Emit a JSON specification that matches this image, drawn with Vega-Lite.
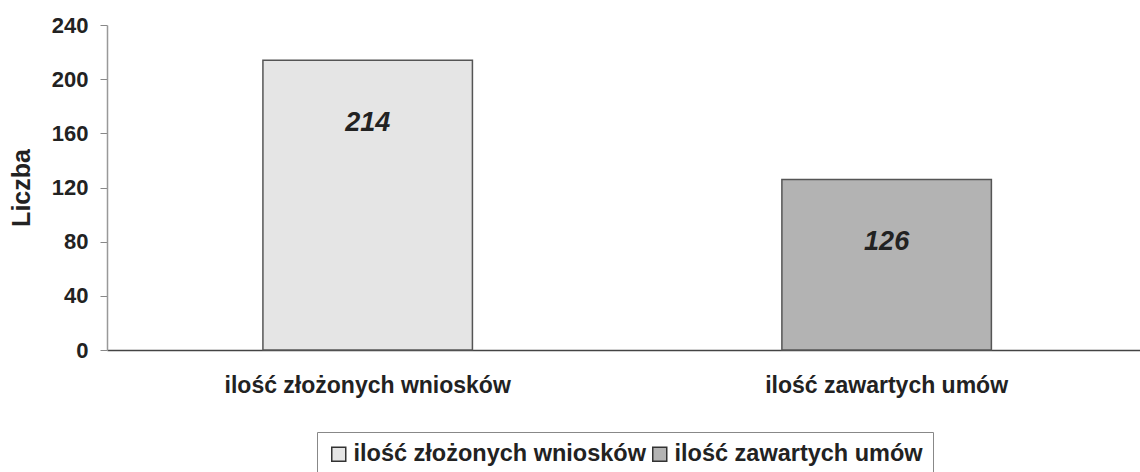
{
  "$schema": "https://vega.github.io/schema/vega-lite/v6.json",
  "width": 1033,
  "height": 325,
  "autosize": {"type": "none"},
  "padding": {"left": 107, "top": 25, "right": 0, "bottom": 122},
  "background": "white",
  "config": {"view": {"stroke": null}, "font": "Liberation Sans"},
  "data": {
    "values": [
      {"kategoria": "ilość złożonych wniosków", "liczba": 214},
      {"kategoria": "ilość zawartych umów", "liczba": 126}
    ]
  },
  "encoding": {
    "x": {
      "field": "kategoria",
      "type": "nominal",
      "sort": null,
      "scale": {"paddingInner": 0.5963, "paddingOuter": 0.2934, "align": 0.512},
      "axis": {
        "title": null,
        "labelAngle": 0,
        "labelFont": "Liberation Sans",
        "labelFontSize": 23,
        "labelFontWeight": "bold",
        "labelColor": "#222",
        "labelLimit": 500,
        "ticks": false,
        "labelPadding": 24,
        "domainColor": "#444",
        "domainWidth": 1.5
      }
    },
    "y": {
      "field": "liczba",
      "type": "quantitative",
      "scale": {"domain": [0, 240], "nice": false},
      "axis": {
        "title": "Liczba",
        "values": [0, 40, 80, 120, 160, 200, 240],
        "grid": false,
        "tickSize": 7,
        "tickColor": "#888",
        "labelPadding": 12,
        "labelFont": "Liberation Sans",
        "labelFontSize": 22,
        "labelFontWeight": "bold",
        "labelColor": "#222",
        "titleFont": "Liberation Sans",
        "titleFontSize": 25,
        "titleFontWeight": "bold",
        "titleColor": "#222",
        "titlePadding": 17,
        "domainColor": "#999",
        "domainWidth": 1.5
      }
    }
  },
  "layer": [
    {
      "mark": {"type": "bar", "stroke": "#555", "strokeWidth": 1.5},
      "encoding": {
        "color": {
          "field": "kategoria",
          "type": "nominal",
          "sort": null,
          "scale": {"range": ["#e5e5e5", "#b3b3b3"]},
          "legend": {
            "orient": "none",
            "legendX": 210,
            "legendY": 407,
            "direction": "horizontal",
            "title": null,
            "symbolType": "square",
            "symbolSize": 196,
            "symbolStrokeColor": "#333",
            "symbolStrokeWidth": 1.5,
            "labelFont": "Liberation Sans",
            "labelFontSize": 23.5,
            "labelFontWeight": "bold",
            "labelColor": "#222",
            "labelOffset": 3,
            "labelLimit": 500,
            "columnPadding": 2,
            "padding": 10,
            "strokeColor": "#888"
          }
        }
      }
    },
    {
      "mark": {"type": "text", "dy": 63, "fontSize": 27, "fontStyle": "italic", "fontWeight": "bold", "color": "#222", "font": "Liberation Sans"},
      "encoding": {"text": {"field": "liczba", "type": "quantitative"}}
    }
  ]
}
